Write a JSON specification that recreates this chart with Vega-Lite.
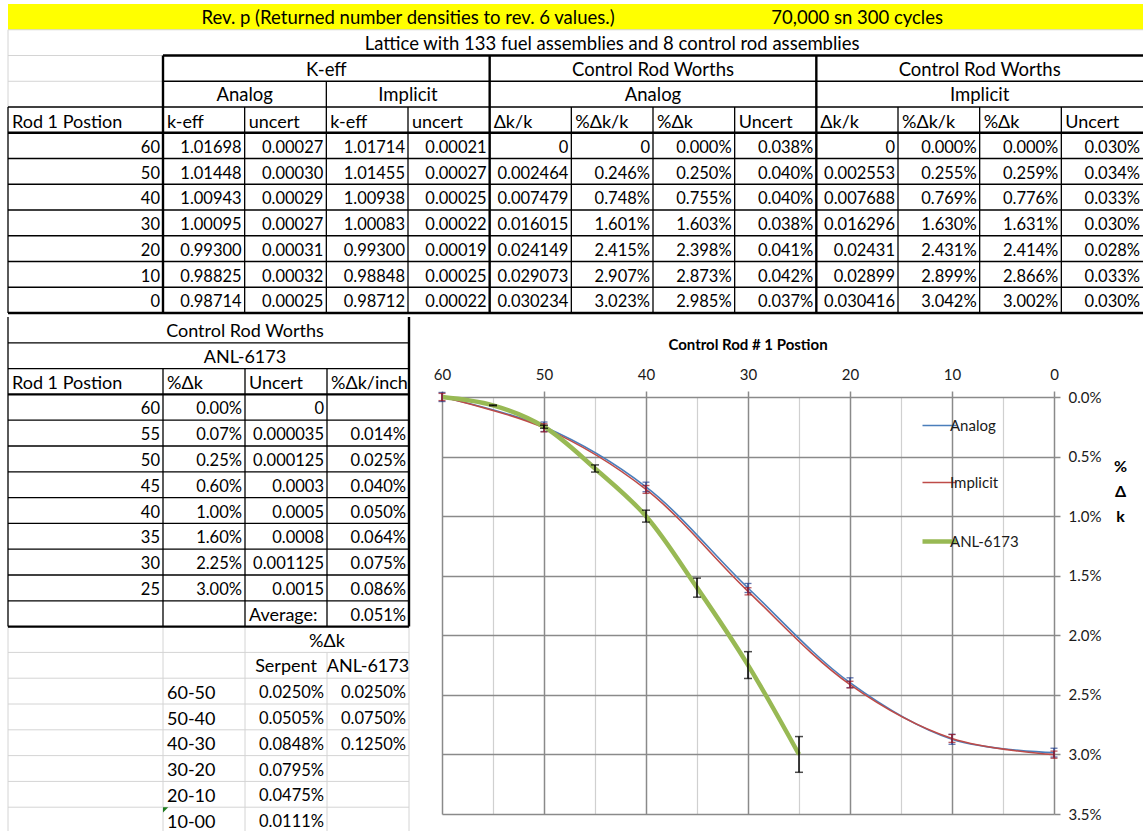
{
  "$schema": "https://vega.github.io/schema/vega-lite/v6.json",
  "padding": 0,
  "background": "#ffffff",
  "config": {"view": {"stroke": null}, "concat": {"spacing": 0}},
  "datasets": {
    "yellow": [{"c1": 0, "c2": 13, "r1": 0, "r2": 1}],
    "t_grid": [
      {"c1": 0, "c2": 13, "r1": 1, "r2": 1},
      {"c1": 0, "c2": 1, "r1": 2, "r2": 2},
      {"c1": 0, "c2": 1, "r1": 3, "r2": 3},
      {"c1": 0, "c2": 0, "r1": 1, "r2": 4}
    ],
    "t_thin": [
      {"c1": 1, "c2": 13, "r1": 3, "r2": 3},
      {"c1": 0, "c2": 13, "r1": 4, "r2": 4},
      {"c1": 0, "c2": 13, "r1": 6, "r2": 6},
      {"c1": 0, "c2": 13, "r1": 7, "r2": 7},
      {"c1": 0, "c2": 13, "r1": 8, "r2": 8},
      {"c1": 0, "c2": 13, "r1": 9, "r2": 9},
      {"c1": 0, "c2": 13, "r1": 10, "r2": 10},
      {"c1": 0, "c2": 13, "r1": 11, "r2": 11},
      {"c1": 0, "c2": 0, "r1": 4, "r2": 12},
      {"c1": 2, "c2": 2, "r1": 4, "r2": 12},
      {"c1": 3, "c2": 3, "r1": 3, "r2": 12},
      {"c1": 4, "c2": 4, "r1": 4, "r2": 12},
      {"c1": 6, "c2": 6, "r1": 4, "r2": 12},
      {"c1": 7, "c2": 7, "r1": 4, "r2": 12},
      {"c1": 8, "c2": 8, "r1": 4, "r2": 12},
      {"c1": 10, "c2": 10, "r1": 4, "r2": 12},
      {"c1": 11, "c2": 11, "r1": 4, "r2": 12},
      {"c1": 12, "c2": 12, "r1": 4, "r2": 12}
    ],
    "t_thick": [
      {"c1": 1, "c2": 13, "r1": 2, "r2": 2},
      {"c1": 0, "c2": 13, "r1": 5, "r2": 5},
      {"c1": 0, "c2": 13, "r1": 12, "r2": 12},
      {"c1": 1, "c2": 1, "r1": 2, "r2": 12},
      {"c1": 5, "c2": 5, "r1": 2, "r2": 12},
      {"c1": 9, "c2": 9, "r1": 2, "r2": 12}
    ],
    "t_center": [
      {"r": 0, "c1": 1, "c2": 6, "t": "Rev. p (Returned number densities to rev. 6 values.)"},
      {"r": 0, "c1": 7, "c2": 11, "t": "70,000 sn 300 cycles"},
      {"r": 1, "c1": 0, "c2": 12, "t": "Lattice with 133 fuel assemblies and 8 control rod assemblies"},
      {"r": 2, "c1": 1, "c2": 4, "t": "K-eff"},
      {"r": 2, "c1": 5, "c2": 8, "t": "Control Rod Worths"},
      {"r": 2, "c1": 9, "c2": 12, "t": "Control Rod Worths"},
      {"r": 3, "c1": 1, "c2": 2, "t": "Analog"},
      {"r": 3, "c1": 3, "c2": 4, "t": "Implicit"},
      {"r": 3, "c1": 5, "c2": 8, "t": "Analog"},
      {"r": 3, "c1": 9, "c2": 12, "t": "Implicit"}
    ],
    "t_left": [
      {"r": 4, "c": 0, "t": "Rod 1 Postion"},
      {"r": 4, "c": 1, "t": "k-eff"},
      {"r": 4, "c": 2, "t": "uncert"},
      {"r": 4, "c": 3, "t": "k-eff"},
      {"r": 4, "c": 4, "t": "uncert"},
      {"r": 4, "c": 5, "t": "Δk/k"},
      {"r": 4, "c": 6, "t": "%Δk/k"},
      {"r": 4, "c": 7, "t": "%Δk"},
      {"r": 4, "c": 8, "t": "Uncert"},
      {"r": 4, "c": 9, "t": "Δk/k"},
      {"r": 4, "c": 10, "t": "%Δk/k"},
      {"r": 4, "c": 11, "t": "%Δk"},
      {"r": 4, "c": 12, "t": "Uncert"}
    ],
    "t_right": [
      {"r": 5, "c": 0, "t": "60"}, {"r": 5, "c": 1, "t": "1.01698"}, {"r": 5, "c": 2, "t": "0.00027"}, {"r": 5, "c": 3, "t": "1.01714"}, {"r": 5, "c": 4, "t": "0.00021"}, {"r": 5, "c": 5, "t": "0"}, {"r": 5, "c": 6, "t": "0"}, {"r": 5, "c": 7, "t": "0.000%"}, {"r": 5, "c": 8, "t": "0.038%"}, {"r": 5, "c": 9, "t": "0"}, {"r": 5, "c": 10, "t": "0.000%"}, {"r": 5, "c": 11, "t": "0.000%"}, {"r": 5, "c": 12, "t": "0.030%"},
      {"r": 6, "c": 0, "t": "50"}, {"r": 6, "c": 1, "t": "1.01448"}, {"r": 6, "c": 2, "t": "0.00030"}, {"r": 6, "c": 3, "t": "1.01455"}, {"r": 6, "c": 4, "t": "0.00027"}, {"r": 6, "c": 5, "t": "0.002464"}, {"r": 6, "c": 6, "t": "0.246%"}, {"r": 6, "c": 7, "t": "0.250%"}, {"r": 6, "c": 8, "t": "0.040%"}, {"r": 6, "c": 9, "t": "0.002553"}, {"r": 6, "c": 10, "t": "0.255%"}, {"r": 6, "c": 11, "t": "0.259%"}, {"r": 6, "c": 12, "t": "0.034%"},
      {"r": 7, "c": 0, "t": "40"}, {"r": 7, "c": 1, "t": "1.00943"}, {"r": 7, "c": 2, "t": "0.00029"}, {"r": 7, "c": 3, "t": "1.00938"}, {"r": 7, "c": 4, "t": "0.00025"}, {"r": 7, "c": 5, "t": "0.007479"}, {"r": 7, "c": 6, "t": "0.748%"}, {"r": 7, "c": 7, "t": "0.755%"}, {"r": 7, "c": 8, "t": "0.040%"}, {"r": 7, "c": 9, "t": "0.007688"}, {"r": 7, "c": 10, "t": "0.769%"}, {"r": 7, "c": 11, "t": "0.776%"}, {"r": 7, "c": 12, "t": "0.033%"},
      {"r": 8, "c": 0, "t": "30"}, {"r": 8, "c": 1, "t": "1.00095"}, {"r": 8, "c": 2, "t": "0.00027"}, {"r": 8, "c": 3, "t": "1.00083"}, {"r": 8, "c": 4, "t": "0.00022"}, {"r": 8, "c": 5, "t": "0.016015"}, {"r": 8, "c": 6, "t": "1.601%"}, {"r": 8, "c": 7, "t": "1.603%"}, {"r": 8, "c": 8, "t": "0.038%"}, {"r": 8, "c": 9, "t": "0.016296"}, {"r": 8, "c": 10, "t": "1.630%"}, {"r": 8, "c": 11, "t": "1.631%"}, {"r": 8, "c": 12, "t": "0.030%"},
      {"r": 9, "c": 0, "t": "20"}, {"r": 9, "c": 1, "t": "0.99300"}, {"r": 9, "c": 2, "t": "0.00031"}, {"r": 9, "c": 3, "t": "0.99300"}, {"r": 9, "c": 4, "t": "0.00019"}, {"r": 9, "c": 5, "t": "0.024149"}, {"r": 9, "c": 6, "t": "2.415%"}, {"r": 9, "c": 7, "t": "2.398%"}, {"r": 9, "c": 8, "t": "0.041%"}, {"r": 9, "c": 9, "t": "0.02431"}, {"r": 9, "c": 10, "t": "2.431%"}, {"r": 9, "c": 11, "t": "2.414%"}, {"r": 9, "c": 12, "t": "0.028%"},
      {"r": 10, "c": 0, "t": "10"}, {"r": 10, "c": 1, "t": "0.98825"}, {"r": 10, "c": 2, "t": "0.00032"}, {"r": 10, "c": 3, "t": "0.98848"}, {"r": 10, "c": 4, "t": "0.00025"}, {"r": 10, "c": 5, "t": "0.029073"}, {"r": 10, "c": 6, "t": "2.907%"}, {"r": 10, "c": 7, "t": "2.873%"}, {"r": 10, "c": 8, "t": "0.042%"}, {"r": 10, "c": 9, "t": "0.02899"}, {"r": 10, "c": 10, "t": "2.899%"}, {"r": 10, "c": 11, "t": "2.866%"}, {"r": 10, "c": 12, "t": "0.033%"},
      {"r": 11, "c": 0, "t": "0"}, {"r": 11, "c": 1, "t": "0.98714"}, {"r": 11, "c": 2, "t": "0.00025"}, {"r": 11, "c": 3, "t": "0.98712"}, {"r": 11, "c": 4, "t": "0.00022"}, {"r": 11, "c": 5, "t": "0.030234"}, {"r": 11, "c": 6, "t": "3.023%"}, {"r": 11, "c": 7, "t": "2.985%"}, {"r": 11, "c": 8, "t": "0.037%"}, {"r": 11, "c": 9, "t": "0.030416"}, {"r": 11, "c": 10, "t": "3.042%"}, {"r": 11, "c": 11, "t": "3.002%"}, {"r": 11, "c": 12, "t": "0.030%"}
    ],
    "l_thin": [
      {"c1": 0, "c2": 4, "r1": 13, "r2": 13},
      {"c1": 0, "c2": 4, "r1": 14, "r2": 14},
      {"c1": 0, "c2": 4, "r1": 16, "r2": 16},
      {"c1": 0, "c2": 4, "r1": 17, "r2": 17},
      {"c1": 0, "c2": 4, "r1": 18, "r2": 18},
      {"c1": 0, "c2": 4, "r1": 19, "r2": 19},
      {"c1": 0, "c2": 4, "r1": 20, "r2": 20},
      {"c1": 0, "c2": 4, "r1": 21, "r2": 21},
      {"c1": 0, "c2": 4, "r1": 22, "r2": 22},
      {"c1": 0, "c2": 4, "r1": 23, "r2": 23},
      {"c1": 0, "c2": 0, "r1": 12, "r2": 24},
      {"c1": 1, "c2": 1, "r1": 14, "r2": 24},
      {"c1": 2, "c2": 2, "r1": 14, "r2": 24},
      {"c1": 3, "c2": 3, "r1": 14, "r2": 24}
    ],
    "l_thick": [
      {"c1": 0, "c2": 4, "r1": 15, "r2": 15},
      {"c1": 0, "c2": 4, "r1": 24, "r2": 24},
      {"c1": 4, "c2": 4, "r1": 12, "r2": 24}
    ],
    "l_grid": [
      {"c1": 0, "c2": 4, "r1": 25, "r2": 25},
      {"c1": 0, "c2": 4, "r1": 26, "r2": 26},
      {"c1": 0, "c2": 4, "r1": 27, "r2": 27},
      {"c1": 0, "c2": 4, "r1": 28, "r2": 28},
      {"c1": 0, "c2": 4, "r1": 29, "r2": 29},
      {"c1": 0, "c2": 4, "r1": 30, "r2": 30},
      {"c1": 0, "c2": 4, "r1": 31, "r2": 31},
      {"c1": 0, "c2": 0, "r1": 24, "r2": 32},
      {"c1": 1, "c2": 1, "r1": 24, "r2": 32},
      {"c1": 2, "c2": 2, "r1": 24, "r2": 32},
      {"c1": 3, "c2": 3, "r1": 25, "r2": 32},
      {"c1": 4, "c2": 4, "r1": 24, "r2": 32}
    ],
    "l_flag": [{"r": 31, "c": 1}],
    "l_center": [
      {"r": 12, "c1": 0, "c2": 3, "t": "Control Rod Worths"},
      {"r": 13, "c1": 0, "c2": 3, "t": "ANL-6173"},
      {"r": 24, "c1": 2, "c2": 3, "t": "%Δk"},
      {"r": 25, "c1": 2, "c2": 2, "t": "Serpent"},
      {"r": 25, "c1": 3, "c2": 3, "t": "ANL-6173"}
    ],
    "l_left": [
      {"r": 14, "c": 0, "t": "Rod 1 Postion"},
      {"r": 14, "c": 1, "t": "%Δk"},
      {"r": 14, "c": 2, "t": "Uncert"},
      {"r": 14, "c": 3, "t": "%Δk/inch"},
      {"r": 23, "c": 2, "t": "Average:"},
      {"r": 26, "c": 1, "t": "60-50"},
      {"r": 27, "c": 1, "t": "50-40"},
      {"r": 28, "c": 1, "t": "40-30"},
      {"r": 29, "c": 1, "t": "30-20"},
      {"r": 30, "c": 1, "t": "20-10"},
      {"r": 31, "c": 1, "t": "10-00"}
    ],
    "l_right": [
      {"r": 15, "c": 0, "t": "60"}, {"r": 15, "c": 1, "t": "0.00%"}, {"r": 15, "c": 2, "t": "0"},
      {"r": 16, "c": 0, "t": "55"}, {"r": 16, "c": 1, "t": "0.07%"}, {"r": 16, "c": 2, "t": "0.000035"}, {"r": 16, "c": 3, "t": "0.014%"},
      {"r": 17, "c": 0, "t": "50"}, {"r": 17, "c": 1, "t": "0.25%"}, {"r": 17, "c": 2, "t": "0.000125"}, {"r": 17, "c": 3, "t": "0.025%"},
      {"r": 18, "c": 0, "t": "45"}, {"r": 18, "c": 1, "t": "0.60%"}, {"r": 18, "c": 2, "t": "0.0003"}, {"r": 18, "c": 3, "t": "0.040%"},
      {"r": 19, "c": 0, "t": "40"}, {"r": 19, "c": 1, "t": "1.00%"}, {"r": 19, "c": 2, "t": "0.0005"}, {"r": 19, "c": 3, "t": "0.050%"},
      {"r": 20, "c": 0, "t": "35"}, {"r": 20, "c": 1, "t": "1.60%"}, {"r": 20, "c": 2, "t": "0.0008"}, {"r": 20, "c": 3, "t": "0.064%"},
      {"r": 21, "c": 0, "t": "30"}, {"r": 21, "c": 1, "t": "2.25%"}, {"r": 21, "c": 2, "t": "0.001125"}, {"r": 21, "c": 3, "t": "0.075%"},
      {"r": 22, "c": 0, "t": "25"}, {"r": 22, "c": 1, "t": "3.00%"}, {"r": 22, "c": 2, "t": "0.0015"}, {"r": 22, "c": 3, "t": "0.086%"},
      {"r": 23, "c": 3, "t": "0.051%"},
      {"r": 26, "c": 2, "t": "0.0250%"}, {"r": 26, "c": 3, "t": "0.0250%"},
      {"r": 27, "c": 2, "t": "0.0505%"}, {"r": 27, "c": 3, "t": "0.0750%"},
      {"r": 28, "c": 2, "t": "0.0848%"}, {"r": 28, "c": 3, "t": "0.1250%"},
      {"r": 29, "c": 2, "t": "0.0795%"},
      {"r": 30, "c": 2, "t": "0.0475%"},
      {"r": 31, "c": 2, "t": "0.0111%"}
    ],
    "curves": [
      {"s": "Analog", "pos": 60, "v": 0, "e": 0.038},
      {"s": "Analog", "pos": 50, "v": 0.25, "e": 0.04},
      {"s": "Analog", "pos": 40, "v": 0.755, "e": 0.04},
      {"s": "Analog", "pos": 30, "v": 1.603, "e": 0.038},
      {"s": "Analog", "pos": 20, "v": 2.398, "e": 0.041},
      {"s": "Analog", "pos": 10, "v": 2.873, "e": 0.042},
      {"s": "Analog", "pos": 0, "v": 2.985, "e": 0.037},
      {"s": "Implicit", "pos": 60, "v": 0, "e": 0.03},
      {"s": "Implicit", "pos": 50, "v": 0.259, "e": 0.034},
      {"s": "Implicit", "pos": 40, "v": 0.776, "e": 0.033},
      {"s": "Implicit", "pos": 30, "v": 1.631, "e": 0.03},
      {"s": "Implicit", "pos": 20, "v": 2.414, "e": 0.028},
      {"s": "Implicit", "pos": 10, "v": 2.866, "e": 0.033},
      {"s": "Implicit", "pos": 0, "v": 3.002, "e": 0.03},
      {"s": "ANL-6173", "pos": 60, "v": 0, "e": 0},
      {"s": "ANL-6173", "pos": 55, "v": 0.07, "e": 0.0035},
      {"s": "ANL-6173", "pos": 50, "v": 0.25, "e": 0.0125},
      {"s": "ANL-6173", "pos": 45, "v": 0.6, "e": 0.03},
      {"s": "ANL-6173", "pos": 40, "v": 1.0, "e": 0.05},
      {"s": "ANL-6173", "pos": 35, "v": 1.6, "e": 0.08},
      {"s": "ANL-6173", "pos": 30, "v": 2.25, "e": 0.1125},
      {"s": "ANL-6173", "pos": 25, "v": 3.0, "e": 0.15}
    ]
  },
  "vconcat": [
    {
      "width": 1143,
      "height": 313,
      "layer": [
        {
          "data": {"name": "yellow"},
          "mark": {"type": "rect", "color": "#ffff00"},
          "encoding": {
            "x": {"field": "c1", "type": "quantitative", "scale": {"domain": [0, 1, 13], "range": [8, 163, 1143], "nice": false, "zero": false}, "axis": null},
            "x2": {"field": "c2"},
            "y": {"field": "r1", "type": "quantitative", "scale": {"domain": [0, 12], "range": [4, 313], "nice": false, "zero": false}, "axis": null},
            "y2": {"field": "r2"}
          }
        },
        {
          "data": {"name": "t_grid"},
          "mark": {"type": "rule", "color": "#d4d4d4", "strokeWidth": 1},
          "encoding": {"x": {"field": "c1", "type": "quantitative"}, "x2": {"field": "c2"}, "y": {"field": "r1", "type": "quantitative"}, "y2": {"field": "r2"}}
        },
        {
          "data": {"name": "t_thin"},
          "mark": {"type": "rule", "color": "#000000", "strokeWidth": 1.3},
          "encoding": {"x": {"field": "c1", "type": "quantitative"}, "x2": {"field": "c2"}, "y": {"field": "r1", "type": "quantitative"}, "y2": {"field": "r2"}}
        },
        {
          "data": {"name": "t_thick"},
          "mark": {"type": "rule", "color": "#000000", "strokeWidth": 2.4},
          "encoding": {"x": {"field": "c1", "type": "quantitative"}, "x2": {"field": "c2"}, "y": {"field": "r1", "type": "quantitative"}, "y2": {"field": "r2"}}
        },
        {
          "data": {"name": "t_center"},
          "transform": [{"calculate": "(datum.c1 + datum.c2 + 1) / 2", "as": "m"}],
          "mark": {"type": "text", "align": "center", "baseline": "alphabetic", "dy": 20, "font": "Lato", "fontSize": 18.5, "color": "#000000"},
          "encoding": {"x": {"field": "m", "type": "quantitative"}, "y": {"field": "r", "type": "quantitative"}, "text": {"field": "t"}}
        },
        {
          "data": {"name": "t_left"},
          "mark": {"type": "text", "align": "left", "baseline": "alphabetic", "dx": 4, "dy": 20.5, "font": "Lato", "fontSize": 18, "color": "#000000"},
          "encoding": {"x": {"field": "c", "type": "quantitative"}, "y": {"field": "r", "type": "quantitative"}, "text": {"field": "t"}}
        },
        {
          "data": {"name": "t_right"},
          "transform": [{"calculate": "datum.c + 1", "as": "ce"}],
          "mark": {"type": "text", "align": "right", "baseline": "alphabetic", "dx": -3, "dy": 20, "font": "Lato", "fontSize": 16.5, "color": "#000000"},
          "encoding": {"x": {"field": "ce", "type": "quantitative"}, "y": {"field": "r", "type": "quantitative"}, "text": {"field": "t"}}
        }
      ]
    },
    {
      "hconcat": [
        {
          "width": 410,
          "height": 417,
          "layer": [
            {
              "data": {"name": "l_grid"},
              "mark": {"type": "rule", "color": "#d4d4d4", "strokeWidth": 1},
              "encoding": {
                "x": {"field": "c1", "type": "quantitative", "scale": {"domain": [0, 1, 4], "range": [8, 163, 409], "nice": false, "zero": false}, "axis": null},
                "x2": {"field": "c2"},
                "y": {"field": "r1", "type": "quantitative", "scale": {"domain": [12, 32], "range": [-80, 436], "nice": false, "zero": false}, "axis": null},
                "y2": {"field": "r2"}
              }
            },
            {
              "data": {"name": "l_thin"},
              "mark": {"type": "rule", "color": "#000000", "strokeWidth": 1.3},
              "encoding": {"x": {"field": "c1", "type": "quantitative"}, "x2": {"field": "c2"}, "y": {"field": "r1", "type": "quantitative"}, "y2": {"field": "r2"}}
            },
            {
              "data": {"name": "l_thick"},
              "mark": {"type": "rule", "color": "#000000", "strokeWidth": 2.4},
              "encoding": {"x": {"field": "c1", "type": "quantitative"}, "x2": {"field": "c2"}, "y": {"field": "r1", "type": "quantitative"}, "y2": {"field": "r2"}}
            },
            {
              "data": {"name": "l_flag"},
              "mark": {"type": "point", "shape": "M0,0L1,0L0,1Z", "size": 110, "filled": true, "color": "#1e7b1e", "opacity": 1, "strokeWidth": 0},
              "encoding": {"x": {"field": "c", "type": "quantitative"}, "y": {"field": "r", "type": "quantitative"}}
            },
            {
              "data": {"name": "l_center"},
              "transform": [{"calculate": "(datum.c1 + datum.c2 + 1) / 2", "as": "m"}],
              "mark": {"type": "text", "align": "center", "baseline": "alphabetic", "dy": 20, "font": "Lato", "fontSize": 18, "color": "#000000"},
              "encoding": {"x": {"field": "m", "type": "quantitative"}, "y": {"field": "r", "type": "quantitative"}, "text": {"field": "t"}}
            },
            {
              "data": {"name": "l_left"},
              "mark": {"type": "text", "align": "left", "baseline": "alphabetic", "dx": 4, "dy": 20.5, "font": "Lato", "fontSize": 18, "color": "#000000"},
              "encoding": {"x": {"field": "c", "type": "quantitative"}, "y": {"field": "r", "type": "quantitative"}, "text": {"field": "t"}}
            },
            {
              "data": {"name": "l_right"},
              "transform": [{"calculate": "datum.c + 1", "as": "ce"}],
              "mark": {"type": "text", "align": "right", "baseline": "alphabetic", "dx": -3, "dy": 20, "font": "Lato", "fontSize": 16.5, "color": "#000000"},
              "encoding": {"x": {"field": "ce", "type": "quantitative"}, "y": {"field": "r", "type": "quantitative"}, "text": {"field": "t"}}
            }
          ]
        },
        {
          "width": 612,
          "height": 417,
          "data": {"name": "curves"},
          "title": {"text": "Control Rod # 1 Postion", "font": "Lato", "fontSize": 15, "fontWeight": "bold", "color": "#000000", "offset": 14, "anchor": "middle"},
          "layer": [
            {
              "transform": [{"filter": "datum.s !== 'ANL-6173'"}],
              "mark": {"type": "line", "interpolate": "catmull-rom", "strokeWidth": 1.6},
              "encoding": {
                "x": {
                  "field": "pos", "type": "quantitative", "title": null,
                  "scale": {"domain": [0, 60], "reverse": true, "nice": false, "zero": false},
                  "axis": {
                    "orient": "top", "values": [60, 55, 50, 45, 40, 35, 30, 25, 20, 15, 10, 5, 0],
                    "labelExpr": "datum.value % 10 === 0 ? datum.label : ''",
                    "grid": true,
                    "gridColor": {"condition": {"test": "datum.value % 10 === 0", "value": "#8a8a8a"}, "value": "#d0d0d0"},
                    "gridWidth": {"condition": {"test": "datum.value % 10 === 0", "value": 1.5}, "value": 1.2},
                    "tickOpacity": {"condition": {"test": "datum.value % 10 === 0", "value": 1}, "value": 0},
                    "tickColor": "#8a8a8a", "tickWidth": 1.5, "tickSize": 6, "domain": false,
                    "labelFont": "Lato", "labelFontSize": 15, "labelColor": "#1a1a1a", "labelPadding": 9,
                    "labelFlush": false, "labelOverlap": false
                  }
                },
                "y": {
                  "field": "v", "type": "quantitative", "title": ["%", "Δ", "k"],
                  "scale": {"domain": [0, 3.5], "reverse": true, "nice": false, "zero": false},
                  "axis": {
                    "orient": "right", "values": [0, 0.5, 1, 1.5, 2, 2.5, 3, 3.5],
                    "labelExpr": "format(datum.value, '.1f') + '%'",
                    "grid": true, "gridColor": "#8a8a8a", "gridWidth": 1.5,
                    "tickColor": "#8a8a8a", "tickWidth": 1.5, "tickSize": 6, "domain": false,
                    "labelFont": "Lato", "labelFontSize": 15, "labelColor": "#1a1a1a", "labelPadding": 8,
                    "labelFlush": false, "labelOverlap": false,
                    "titleAngle": 0, "titleFont": "Lato", "titleFontSize": 16,
                    "titleFontWeight": "bold", "titleColor": "#000000", "titleLineHeight": 25,
                    "titleAlign": "center", "titleBaseline": "middle", "titleX": 66, "titleY": 69
                  }
                },
                "color": {
                  "field": "s", "type": "nominal",
                  "scale": {"domain": ["Analog", "Implicit", "ANL-6173"], "range": ["#4a7ebb", "#be4b48", "#98b954"]},
                  "legend": {
                    "orient": "none", "legendX": 932, "legendY": 418, "title": null, "padding": 0,
                    "symbolType": "stroke", "symbolSize": 1156, "symbolStrokeWidth": 1.6,
                    "labelFont": "Lato", "labelFontSize": 15, "labelColor": "#1a1a1a", "labelOffset": 3,
                    "rowPadding": 41,
                    "encode": {"symbols": {"update": {"strokeWidth": {"signal": "datum.value === 'ANL-6173' ? 4.5 : 1.6"}}}}
                  }
                }
              }
            },
            {
              "transform": [{"filter": "datum.s === 'ANL-6173'"}],
              "mark": {"type": "line", "interpolate": "catmull-rom", "strokeWidth": 4.5},
              "encoding": {
                "x": {"field": "pos", "type": "quantitative", "title": null},
                "y": {"field": "v", "type": "quantitative", "title": ["%", "Δ", "k"]},
                "color": {"field": "s", "type": "nominal"}
              }
            },
            {
              "transform": [{"filter": "datum.s === 'Analog'"}],
              "mark": {"type": "errorbar", "ticks": {"size": 7, "thickness": 1.3}, "color": "#1f3a8a", "thickness": 1.3},
              "encoding": {"x": {"field": "pos", "type": "quantitative", "title": null}, "y": {"field": "v", "type": "quantitative", "title": ["%", "Δ", "k"]}, "yError": {"field": "e"}}
            },
            {
              "transform": [{"filter": "datum.s === 'Implicit'"}],
              "mark": {"type": "errorbar", "ticks": {"size": 7, "thickness": 1.3}, "color": "#a01520", "thickness": 1.3},
              "encoding": {"x": {"field": "pos", "type": "quantitative", "title": null}, "y": {"field": "v", "type": "quantitative", "title": ["%", "Δ", "k"]}, "yError": {"field": "e"}}
            },
            {
              "transform": [{"filter": "datum.s === 'ANL-6173' && datum.e > 0"}],
              "mark": {"type": "errorbar", "ticks": {"size": 8, "thickness": 1.5}, "color": "#000000", "thickness": 1.5},
              "encoding": {"x": {"field": "pos", "type": "quantitative", "title": null}, "y": {"field": "v", "type": "quantitative", "title": ["%", "Δ", "k"]}, "yError": {"field": "e"}}
            }
          ]
        }
      ],
      "spacing": 22
    }
  ]
}
